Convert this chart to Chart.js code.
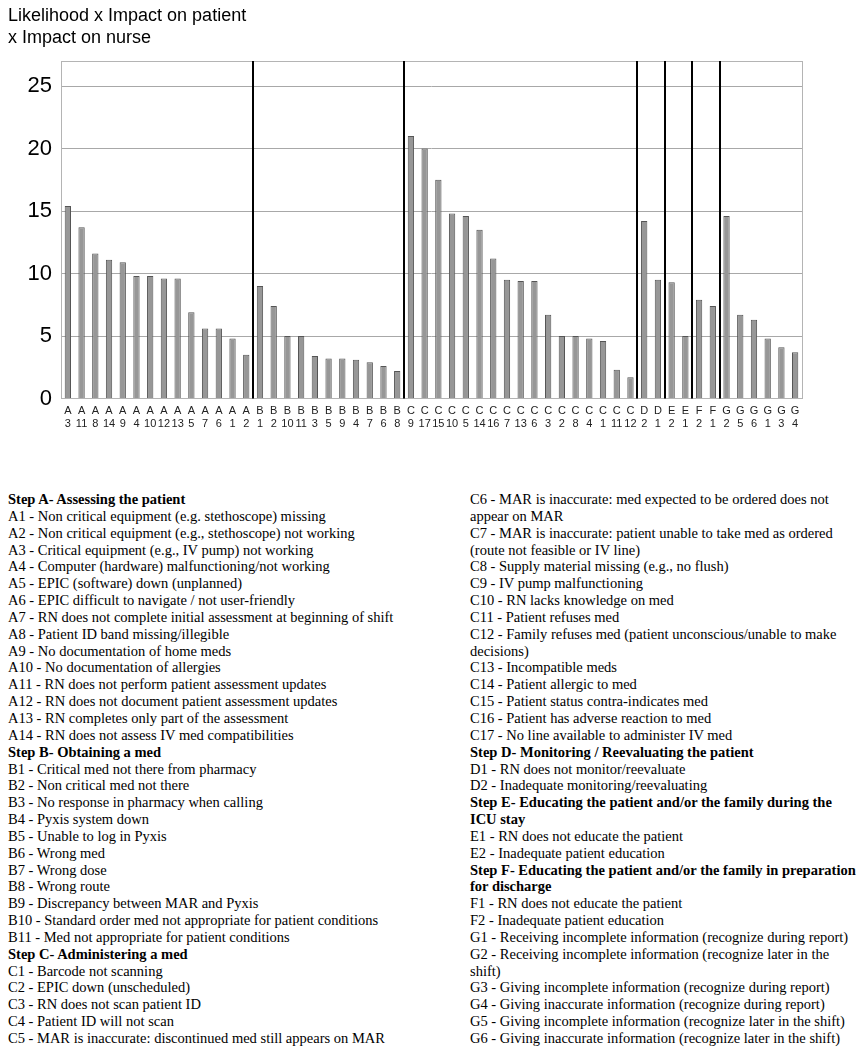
<!DOCTYPE html>
<html>
<head>
<meta charset="utf-8">
<script src="https://cdn.jsdelivr.net/npm/chart.js@4.4.1/dist/chart.umd.min.js"></script>
<style>
  html, body { margin: 0; padding: 0; background: #fff; }
  body { width: 863px; height: 1050px; position: relative; overflow: hidden; }
  #wrap { position: absolute; left: 0; top: 0; width: 863px; height: 441px; }
  .col { position: absolute; top: 491px; font-family: "Liberation Serif", "Times New Roman", serif;
         font-size: 14.5px; line-height: 16.84px; color: #000; white-space: nowrap; }
  #left { left: 8px; }
  #right { left: 470px; }
  .b { font-weight: bold; }
</style>
</head>
<body>
<div id="wrap"><canvas id="c"></canvas></div>
<div class="col" id="left"></div>
<div class="col" id="right"></div>
<script>
// ---- data ----
const groupLetters = ['A','A','A','A','A','A','A','A','A','A','A','A','A','A',
  'B','B','B','B','B','B','B','B','B','B','B',
  'C','C','C','C','C','C','C','C','C','C','C','C','C','C','C','C','C',
  'D','D','E','E','F','F','G','G','G','G','G','G'];
const itemNumbers = ['3','11','8','14','9','4','10','12','13','5','7','6','1','2',
  '1','2','10','11','3','5','9','4','7','6','8',
  '9','17','15','10','5','14','16','7','13','6','3','2','8','4','1','11','12',
  '2','1','2','1','2','1','2','5','6','1','3','4'];
const scores = [15.4, 13.7, 11.6, 11.1, 10.9, 9.8, 9.8, 9.6, 9.6, 6.9, 5.6, 5.6, 4.8, 3.5,
  9.0, 7.4, 5.0, 5.0, 3.4, 3.2, 3.2, 3.1, 2.9, 2.6, 2.2,
  21.0, 20.0, 17.5, 14.8, 14.6, 13.5, 11.2, 9.5, 9.4, 9.4, 6.7, 5.0, 5.0, 4.8, 4.6, 2.3, 1.7,
  14.2, 9.5, 9.3, 5.0, 7.9, 7.4, 14.6, 6.7, 6.3, 4.8, 4.1, 3.7];
const yTicks = [0, 5, 10, 15, 20, 25];
const yMax = 27;
const titleLines = ['Likelihood x Impact on patient', 'x Impact on nurse'];

const leftLines = [
  ['b','Step A- Assessing the patient'],
  ['','A1 - Non critical equipment (e.g. stethoscope) missing'],
  ['','A2 - Non critical equipment (e.g., stethoscope) not working'],
  ['','A3 - Critical equipment (e.g., IV pump) not working'],
  ['','A4 - Computer (hardware) malfunctioning/not working'],
  ['','A5 - EPIC (software) down (unplanned)'],
  ['','A6 - EPIC difficult to navigate / not user-friendly'],
  ['','A7 - RN does not complete initial assessment at beginning of shift'],
  ['','A8 - Patient ID band missing/illegible'],
  ['','A9 - No documentation of home meds'],
  ['','A10 - No documentation of allergies'],
  ['','A11 - RN does not perform patient assessment updates'],
  ['','A12 - RN does not document patient assessment updates'],
  ['','A13 - RN completes only part of the assessment'],
  ['','A14 - RN does not assess IV med compatibilities'],
  ['b','Step B- Obtaining a med'],
  ['','B1 - Critical med not there from pharmacy'],
  ['','B2 - Non critical med not there'],
  ['','B3 - No response in pharmacy when calling'],
  ['','B4 - Pyxis system down'],
  ['','B5 - Unable to log in Pyxis'],
  ['','B6 - Wrong med'],
  ['','B7 - Wrong dose'],
  ['','B8 - Wrong route'],
  ['','B9 - Discrepancy between MAR and Pyxis'],
  ['','B10 - Standard order med not appropriate for patient conditions'],
  ['','B11 - Med not appropriate for patient conditions'],
  ['b','Step C- Administering a med'],
  ['','C1 - Barcode not scanning'],
  ['','C2 - EPIC down (unscheduled)'],
  ['','C3 - RN does not scan patient ID'],
  ['','C4 - Patient ID will not scan'],
  ['','C5 - MAR is inaccurate: discontinued med still appears on MAR']
];
const rightLines = [
  ['','C6 - MAR is inaccurate: med expected to be ordered does not'],
  ['','appear on MAR'],
  ['','C7 - MAR is inaccurate: patient unable to take med as ordered'],
  ['','(route not feasible or IV line)'],
  ['','C8 - Supply material missing (e.g., no flush)'],
  ['','C9 - IV pump malfunctioning'],
  ['','C10 - RN lacks knowledge on med'],
  ['','C11 - Patient refuses med'],
  ['','C12 - Family refuses med (patient unconscious/unable to make'],
  ['','decisions)'],
  ['','C13 - Incompatible meds'],
  ['','C14 - Patient allergic to med'],
  ['','C15 - Patient status contra-indicates med'],
  ['','C16 - Patient has adverse reaction to med'],
  ['','C17 - No line available to administer IV med'],
  ['b','Step D- Monitoring / Reevaluating the patient'],
  ['','D1 - RN does not monitor/reevaluate'],
  ['','D2 - Inadequate monitoring/reevaluating'],
  ['b','Step E- Educating the patient and/or the family during the'],
  ['b','ICU stay'],
  ['','E1 - RN does not educate the patient'],
  ['','E2 - Inadequate patient education'],
  ['b','Step F- Educating the patient and/or the family in preparation'],
  ['b','for discharge'],
  ['','F1 - RN does not educate the patient'],
  ['','F2 - Inadequate patient education'],
  ['','G1 - Receiving incomplete information (recognize during report)'],
  ['','G2 - Receiving incomplete information (recognize later in the'],
  ['','shift)'],
  ['','G3 - Giving incomplete information (recognize during report)'],
  ['','G4 - Giving inaccurate information (recognize during report)'],
  ['','G5 - Giving incomplete information (recognize later in the shift)'],
  ['','G6 - Giving inaccurate information (recognize later in the shift)']
];

function fill(id, lines) {
  const el = document.getElementById(id);
  lines.forEach(([cls, t]) => {
    const d = document.createElement('div');
    if (cls) d.className = cls;
    d.textContent = t;
    el.appendChild(d);
  });
}
fill('left', leftLines);
fill('right', rightLines);

const labels = groupLetters.map((g, i) => [g, itemNumbers[i]]);

const frameAndSeparators = {
  id: 'frameAndSeparators',
  beforeDatasetsDraw(chart) {
    const { ctx, chartArea: a } = chart;
    ctx.save();
    ctx.strokeStyle = '#b4b4b4';
    ctx.lineWidth = 1;
    ctx.strokeRect(Math.round(a.left) + 0.5, Math.round(a.top) + 0.5,
                   Math.round(a.right - a.left), Math.round(a.bottom - a.top));
    ctx.restore();
  },
  afterDatasetsDraw(chart) {
    const { ctx, chartArea: a, scales: { x } } = chart;
    ctx.save();
    ctx.strokeStyle = '#000';
    ctx.lineWidth = 2;
    for (let i = 1; i < groupLetters.length; i++) {
      if (groupLetters[i] !== groupLetters[i - 1]) {
        const px = Math.round((x.getPixelForValue(i - 1) + x.getPixelForValue(i)) / 2);
        ctx.beginPath();
        ctx.moveTo(px, a.top);
        ctx.lineTo(px, a.bottom);
        ctx.stroke();
      }
    }
    ctx.restore();
  }
};

new Chart(document.getElementById('c'), {
  type: 'bar',
  data: {
    labels,
    datasets: [{
      data: scores,
      backgroundColor: '#979797',
      borderColor: '#555555',
      borderWidth: 1,
      categoryPercentage: 1,
      barPercentage: 0.46
    }]
  },
  plugins: [frameAndSeparators],
  options: {
    responsive: true,
    maintainAspectRatio: false,
    animation: false,
    layout: { padding: { left: 8, right: 61, top: 6, bottom: 4 } },
    plugins: {
      legend: { display: false },
      tooltip: { enabled: false },
      title: {
        display: true,
        text: titleLines,
        align: 'start',
        color: '#000',
        font: { family: 'Liberation Sans, Arial, sans-serif', size: 18, weight: 'normal', lineHeight: 1.17 },
        padding: { top: 0, bottom: 13 }
      }
    },
    scales: {
      x: {
        grid: { display: false, drawTicks: false },
        border: { display: false },
        ticks: {
          autoSkip: false,
          maxRotation: 0,
          minRotation: 0,
          color: '#222',
          padding: 6,
          font: { family: 'Liberation Sans, Arial, sans-serif', size: 11, lineHeight: 1.2 }
        }
      },
      y: {
        min: 0,
        max: yMax,
        afterBuildTicks(scale) { scale.ticks = yTicks.map(v => ({ value: v })); },
        afterFit(scale) { scale.width = 53; },
        grid: { color: '#a8a8a8', drawTicks: false, lineWidth: 1 },
        border: { display: false },
        ticks: {
          color: '#000',
          padding: 9,
          font: { family: 'Liberation Sans, Arial, sans-serif', size: 22 }
        }
      }
    }
  }
});
</script>
</body>
</html>
